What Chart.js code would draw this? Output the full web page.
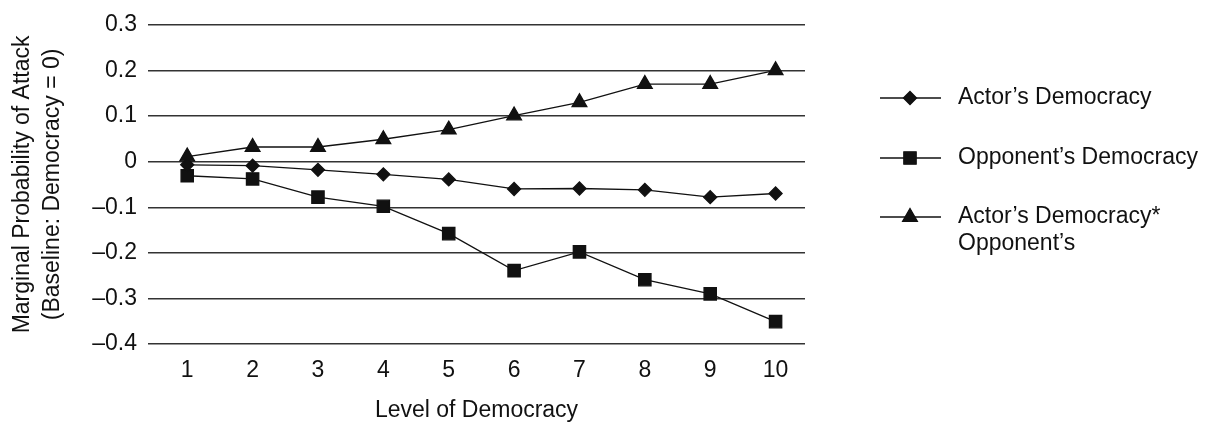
<!DOCTYPE html>
<html>
<head>
<meta charset="utf-8">
<script src="https://cdn.jsdelivr.net/npm/chart.js@4/dist/chart.umd.min.js"></script>
<style>
html,body{margin:0;padding:0;background:#fff;}
#wrap{width:1212px;height:429px;}
</style>
</head>
<body>
<div id="wrap"><canvas id="graf"></canvas></div>
<script>
/* DADOS */
const niveis=[1,2,3,4,5,6,7,8,9,10];
const ator=[-0.007,-0.009,-0.018,-0.028,-0.039,-0.060,-0.059,-0.062,-0.078,-0.070];
const oponente=[-0.031,-0.038,-0.078,-0.098,-0.158,-0.239,-0.198,-0.259,-0.290,-0.351];
const interacao=[0.011,0.032,0.032,0.049,0.070,0.101,0.130,0.170,0.170,0.200];
const nomes=['Actor’s Democracy','Opponent’s Democracy','Actor’s Democracy*\nOpponent’s'];
const yTicks=[0.3,0.2,0.1,0,-0.1,-0.2,-0.3,-0.4];

const fonte="'Liberation Sans', Arial, Helvetica, sans-serif";
const cor='#111';

function pts(v){return niveis.map((x,i)=>({x:x,y:v[i]}));}

function ds(label,v,estilo,r){
return{
label:label,
data:pts(v),
borderColor:cor,
backgroundColor:cor,
borderWidth:1.3,
pointStyle:estilo,
pointRadius:r,
pointHoverRadius:r,
tension:0
};
}

/* LEGENDA */
const legenda={
id:'legenda',
afterDraw(c){
const ctx=c.ctx;
const ys=[98,158,217];
ctx.save();
ctx.font='23px '+fonte;
ctx.fillStyle=cor;
ctx.textBaseline='middle';
c.data.datasets.forEach((d,i)=>{
let y=ys[i];
ctx.strokeStyle=cor;
ctx.lineWidth=1.3;
ctx.beginPath();
ctx.moveTo(880,y);
ctx.lineTo(941,y);
ctx.stroke();
Chart.helpers.drawPoint(ctx,{pointStyle:d.pointStyle,radius:d.pointRadius,borderWidth:1},910,y);
ctx.fill();
d.label.split('\n').forEach((t,k)=>{
ctx.fillText(t,958,y+k*27);
});
});
ctx.restore();
}
};

new Chart(graf,{
type:'line',
data:{datasets:[
ds(nomes[0],ator,'rectRot',6.5),
ds(nomes[1],oponente,'rect',8.7),
ds(nomes[2],interacao,'triangle',8.5)
]},
options:{
responsive:true,
maintainAspectRatio:false,
animation:false,
layout:{padding:{top:22,right:407,bottom:0,left:0}},
plugins:{legend:{display:false},tooltip:{enabled:false}},
scales:{
x:{
type:'linear',
min:0.4,
max:10.45,
afterBuildTicks:s=>{s.ticks=niveis.map(v=>({value:v}));},
afterFit:s=>{s.height=85;},
grid:{display:false},
border:{display:false},
ticks:{color:cor,font:{family:fonte,size:23},padding:5,maxRotation:0,autoSkip:false},
title:{display:true,text:'Level of Democracy',color:cor,font:{family:fonte,size:23},padding:{top:0,bottom:5}}
},
y:{
min:-0.4,
max:0.3,
afterBuildTicks:s=>{s.ticks=yTicks.map(v=>({value:v}));},
afterFit:s=>{s.width=148;},
grid:{color:'#333',lineWidth:1.4,drawTicks:false},
border:{display:false},
ticks:{
color:cor,
font:{family:fonte,size:23},
padding:11,
callback:v=>v===0?'0':v.toFixed(1).replace('-','–')
},
title:{
display:true,
text:['Marginal Probability of Attack','(Baseline: Democracy = 0)'],
color:cor,
font:{family:fonte,size:23,lineHeight:1.3},
padding:{top:8,bottom:0}
}
}
}
},
plugins:[legenda]
});
</script>
</body>
</html>
